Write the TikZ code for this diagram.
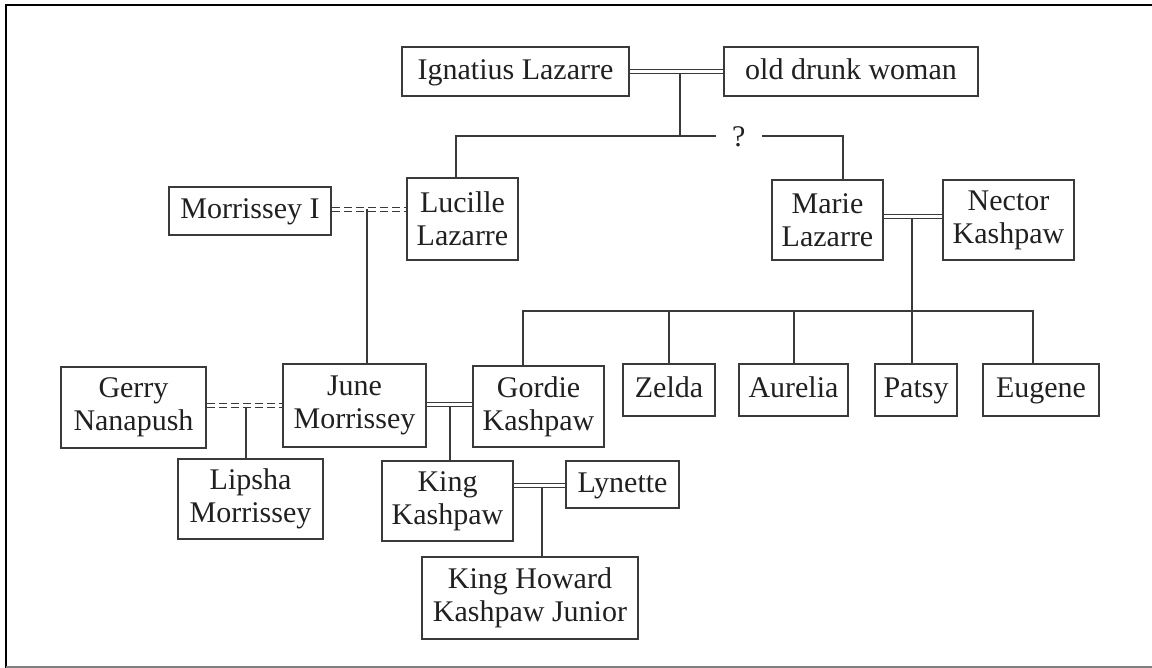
\documentclass[tikz,border=0pt]{standalone}
\usepackage{fontspec}
\setmainfont{Liberation Serif}
\definecolor{lc}{HTML}{3A3A3A}
\definecolor{tc}{HTML}{202020}
\begin{document}
\begin{tikzpicture}[x=0.5pt,y=-0.5pt,
  pbox/.style={draw=lc, line width=1pt, align=center, inner sep=0pt,
    font=\fontsize{15}{16.5}\selectfont, text=tc},
  oneline/.style={pbox, text height=10pt, text depth=2pt},
  ln/.style={draw=lc, line width=1pt},
  marr/.style={draw=lc, line width=0.7pt, double=white, double distance=1.2pt},
  dmarr/.style={marr, dash pattern=on 4pt off 2pt}]
\useasboundingbox (0,0) rectangle (1152,668);
% frame
\draw[black, line width=1.2pt] (6,668) -- (6,5) -- (1152,5);
\draw[gray, line width=0.8pt] (6,667) -- (1152,667);

% people
\node[oneline, minimum width=113.5pt, minimum height=24.5pt] (ign) at (515.5,71.5) {Ignatius Lazarre};
\node[oneline, minimum width=127pt, minimum height=24.5pt] (old) at (851,71.5) {old drunk woman};
\node[oneline, minimum width=81pt, minimum height=24pt] (mor1) at (250,211) {Morrissey I};
\node[pbox, minimum width=55.5pt, minimum height=41pt] (luc) at (462.5,219) {Lucille\\Lazarre};
\node[pbox, minimum width=55.5pt, minimum height=40pt] (mar) at (827.5,220) {Marie\\Lazarre};
\node[pbox, minimum width=65.5pt, minimum height=40pt] (nec) at (1008.5,220) {Nector\\Kashpaw};
\node[pbox, minimum width=72.5pt, minimum height=40.5pt] (ger) at (133.5,407.5) {Gerry\\Nanapush};
\node[pbox, minimum width=71.5pt, minimum height=41.5pt] (jun) at (354.5,405.5) {June\\Morrissey};
\node[pbox, minimum width=65.5pt, minimum height=40.5pt] (gor) at (538.5,406.5) {Gordie\\Kashpaw};
\node[oneline, minimum width=46pt, minimum height=26pt] (zel) at (669,390) {Zelda};
\node[oneline, minimum width=54.5pt, minimum height=26pt] (aur) at (793.5,390) {Aurelia};
\node[oneline, minimum width=41pt, minimum height=26pt] (pat) at (916,390) {Patsy};
\node[oneline, minimum width=58pt, minimum height=26pt] (eug) at (1041,390) {Eugene};
\node[pbox, minimum width=72.5pt, minimum height=40pt] (lip) at (250.5,499) {Lipsha\\Morrissey};
\node[pbox, minimum width=65.5pt, minimum height=40pt] (kin) at (447.5,501) {King\\Kashpaw};
\node[oneline, minimum width=56.5pt, minimum height=23.5pt] (lyn) at (622.5,484.5) {Lynette};
\node[pbox, minimum width=108pt, minimum height=41pt] (khk) at (530,598) {King Howard\\Kashpaw Junior};

% question mark on the sibling line
\node[font=\fontsize{15}{16.5}\selectfont, text=tc, inner sep=0pt, minimum width=22.8pt] (q) at (738.8,136.5) {?};

% junction points
\coordinate (m1) at (680,71.5);
\coordinate (f1) at (680,136.5);
\coordinate (fl) at (456,136.5);
\coordinate (fr) at (843.3,136.5);
\coordinate (m2) at (911.7,216.5);
\coordinate (f2) at (911.7,311);
\coordinate (fg) at (523.3,311);
\coordinate (fe) at (1033.3,311);
\coordinate (m3) at (366.7,209.5);
\coordinate (m4) at (246,405.5);
\coordinate (m5) at (450,404.5);
\coordinate (m6) at (541.7,485.3);

% descent lines
\draw[ln] (m1) -- (f1);
\draw[ln] (luc.north -| fl) -- (fl) -- (q.west);
\draw[ln] (q.east) -- (fr) -- (mar.north -| fr);
\draw[ln] (m2) -- (f2);
\draw[ln] (gor.north -| fg) -- (fg) -- (fe) -- (eug.north -| fe);
\draw[ln] (zel.north) -- (zel.north |- f2);
\draw[ln] (aur.north) -- (aur.north |- f2);
\draw[ln] (pat.north -| f2) -- (f2);
\draw[ln] (m3) -- (jun.north -| m3);
\draw[ln] (m4) -- (lip.north -| m4);
\draw[ln] (m5) -- (kin.north -| m5);
\draw[ln] (m6) -- (khk.north -| m6);

% unions
\draw[marr] (ign) -- (old);
\draw[marr] (mar.east |- m2) -- (nec.west |- m2);
\draw[dmarr] (mor1.east |- m3) -- (luc.west |- m3);
\draw[dmarr] (ger.east |- m4) -- (jun.west |- m4);
\draw[marr] (jun.east |- m5) -- (gor.west |- m5);
\draw[marr] (kin.east |- m6) -- (lyn.west |- m6);
\end{tikzpicture}
\end{document}
